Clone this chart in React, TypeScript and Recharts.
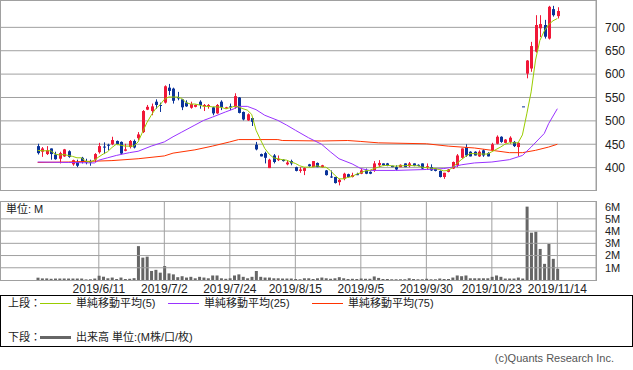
import { ComposedChart, Bar, Line, XAxis, YAxis, CartesianGrid, ReferenceLine } from "recharts";

// daily OHLC, 2019/5/22 - 2019/11/14 (index 0..119)
const opens = [
  446, 434, 429, 441, 428, 419, 424, 435, 407, 412, 421, 414, 413, 417, 433, 445, 449, 450, 457, 455,
  436, 444, 457, 463, 476, 524, 521, 541, 534, 539, 571, 569, 551, 546, 539, 528, 530, 541, 531, 531,
  529, 516, 541, 526, 531, 529, 550, 519, 501, 506, 449, 429, 431, 399, 426, 416, 417, 407, 414, 401,
  393, 393, 407, 401, 410, 401, 394, 381, 380, 369, 376, 386, 380, 386, 387, 394, 391, 393, 405, 409,
  409, 404, 401, 401, 409, 403, 409, 406, 409, 400, 401, 398, 393, 380, 391, 398, 405, 421, 444, 434,
  434, 424, 437, 431, 437, 451, 466, 453, 455, 455, 444, 531, 601, 612, 648, 698, 705, 676, 739, 724,
];
const highs = [
  451, 444, 446, 441, 434, 434, 440, 437, 417, 417, 423, 419, 417, 431, 453, 454, 451, 466, 458, 456,
  451, 459, 460, 476, 523, 534, 537, 546, 539, 576, 579, 571, 562, 546, 544, 541, 535, 544, 536, 536,
  530, 536, 544, 530, 537, 559, 551, 520, 516, 507, 455, 430, 434, 419, 429, 426, 418, 416, 417, 402,
  401, 401, 408, 414, 411, 406, 395, 394, 380, 376, 389, 387, 389, 389, 398, 398, 392, 414, 416, 409,
  410, 404, 405, 407, 409, 412, 409, 407, 409, 409, 407, 399, 394, 389, 397, 413, 429, 441, 450, 435,
  435, 437, 439, 433, 453, 469, 467, 461, 467, 457, 454, 531, 630, 669, 726, 726, 716, 746, 746, 743,
];
const lows = [
  428, 423, 427, 417, 417, 409, 423, 421, 404, 401, 409, 407, 404, 412, 430, 429, 437, 448, 448, 428,
  435, 441, 441, 459, 474, 523, 512, 526, 519, 537, 555, 537, 544, 523, 530, 526, 529, 526, 521, 526,
  512, 515, 523, 525, 523, 526, 516, 501, 500, 489, 437, 424, 409, 399, 409, 414, 413, 405, 405, 392,
  389, 384, 402, 401, 401, 400, 383, 378, 366, 362, 373, 379, 379, 384, 386, 386, 386, 391, 401, 404,
  403, 401, 394, 401, 401, 401, 403, 403, 397, 396, 393, 392, 379, 376, 390, 397, 401, 419, 423, 424,
  426, 423, 423, 424, 436, 450, 453, 452, 451, 444, 425, 531, 591, 605, 646, 679, 676, 674, 723, 719,
];
const closes = [
  431, 441, 437, 429, 418, 431, 439, 423, 416, 404, 412, 411, 412, 429, 446, 443, 447, 459, 450, 430,
  439, 457, 443, 471, 521, 530, 531, 534, 533, 574, 564, 543, 548, 529, 531, 536, 534, 534, 534, 534,
  516, 534, 529, 529, 529, 553, 517, 503, 514, 498, 439, 424, 421, 417, 412, 419, 414, 411, 409, 393,
  396, 399, 403, 414, 401, 405, 384, 379, 367, 374, 387, 380, 384, 385, 394, 387, 387, 409, 410, 405,
  404, 401, 396, 406, 401, 409, 404, 404, 398, 403, 394, 393, 380, 389, 396, 412, 426, 441, 426, 424,
  426, 434, 426, 424, 450, 466, 455, 460, 464, 446, 453, 531, 629, 660, 705, 707, 680, 744, 726, 735,
];
// volume, M shares
const volumes = [
  0.19, 0.13, 0.13, 0.1, 0.12, 0.12, 0.12, 0.12, 0.12, 0.12, 0.12, 0.05, 0.06, 0.12, 0.35, 0.27, 0.14, 0.2, 0.08, 0.2,
  0.08, 0.1, 0.15, 2.77, 1.83, 1.91, 0.74, 0.83, 0.6, 1.14, 0.54, 0.46, 0.23, 0.31, 0.2, 0.26, 0.14, 0.26, 0.2, 0.14,
  0.37, 0.37, 0.14, 0.1, 0.14, 0.37, 0.46, 0.26, 0.14, 0.26, 0.74, 0.26, 0.2, 0.2, 0.14, 0.14, 0.12, 0.12, 0.12, 0.08,
  0.06, 0.14, 0.14, 0.08, 0.14, 0.2, 0.14, 0.1, 0.14, 0.23, 0.14, 0.08, 0.1, 0.08, 0.12, 0.1, 0.1, 0.29, 0.17, 0.08,
  0.08, 0.06, 0.06, 0.06, 0.06, 0.14, 0.08, 0.06, 0.06, 0.1, 0.06, 0.06, 0.12, 0.08, 0.08, 0.2, 0.37, 0.31, 0.37, 0.14,
  0.14, 0.14, 0.14, 0.14, 0.26, 0.37, 0.26, 0.12, 0.12, 0.12, 0.2, 0.12, 6.0, 3.87, 3.95, 2.54, 1.32, 2.95, 1.73, 0.92,
];

// moving averages: [day index, value]
const ma5Points: [number, number][] = [
  [0, 437], [1, 436], [2, 436], [3, 436], [4, 429], [5, 427], [6, 428], [7, 426], [8, 424], [9, 421],
  [10, 421], [11, 414], [12, 412], [13, 416], [14, 423], [15, 429], [16, 434], [17, 443], [18, 450], [19, 448],
  [20, 446], [21, 446], [22, 446], [23, 455], [24, 476], [25, 496], [26, 512], [27, 526], [28, 534], [29, 546],
  [30, 551], [31, 551], [32, 551], [33, 548], [34, 539], [35, 536], [36, 536], [37, 534], [38, 531], [39, 531],
  [40, 530], [41, 530], [42, 529], [43, 526], [44, 528], [45, 531], [46, 530], [47, 526], [48, 523], [49, 514],
  [50, 480], [51, 460], [52, 441], [53, 429], [54, 421], [55, 419], [56, 417], [57, 416], [58, 412], [59, 409],
  [60, 404], [61, 401], [62, 401], [63, 401], [64, 404], [65, 401], [66, 401], [67, 394], [68, 384], [69, 376],
  [70, 376], [71, 379], [72, 381], [73, 386], [74, 389], [75, 393], [76, 394], [77, 398], [78, 401], [79, 404],
  [80, 405], [81, 404], [82, 403], [83, 404], [84, 404], [85, 405], [86, 404], [87, 404], [88, 401], [89, 400],
  [90, 399], [91, 398], [92, 396], [93, 393], [94, 394], [95, 400], [96, 409], [97, 417], [98, 424], [99, 430],
  [100, 430], [101, 429], [102, 429], [103, 429], [104, 434], [105, 439], [106, 444], [107, 450], [108, 453], [109, 453],
  [110, 453], [111, 470], [112, 515], [113, 562], [114, 630], [115, 672], [116, 692], [117, 706], [118, 714], [119, 719],
];
const ma25Points: [number, number][] = [
  [0, 412], [7, 411], [13, 410], [14, 416], [16, 421], [18, 426], [21, 432], [23, 435], [26, 446], [29, 455],
  [31, 466], [33, 476], [36, 491], [38, 501], [40, 508], [43, 519], [45, 526], [46, 531], [48, 531], [50, 524],
  [52, 512], [55, 501], [57, 491], [59, 480], [62, 464], [65, 450], [67, 434], [69, 419], [72, 408], [74, 398],
  [76, 394], [82, 394], [89, 396], [93, 398], [95, 401], [97, 406], [100, 410], [104, 412], [108, 417], [111, 426],
  [113, 444], [116, 473], [117, 494], [119, 526],
];
const ma75Points: [number, number][] = [
  [0, 411], [7, 412], [17, 415], [23, 419], [29, 425], [31, 431], [36, 438], [40, 446], [44, 455], [46, 460],
  [55, 460], [56, 458], [65, 457], [71, 458], [74, 456], [78, 453], [89, 451], [94, 446], [100, 442], [104, 437],
  [108, 432], [111, 432], [114, 437], [117, 444], [119, 450],
];

const tickIdx = [14, 29, 44, 59, 74, 89, 104, 119];
const tickLabels = ["2019/6/11", "2019/7/2", "2019/7/24", "2019/8/15", "2019/9/5", "2019/9/30", "2019/10/23", "2019/11/14"];
const priceTicks = [400, 450, 500, 550, 600, 650, 700];
const volumeTicks = [1, 2, 3, 4, 5, 6];
const volumeGrid = [1, 2, 3, 4, 5];

const RED = "#f01838";
const BLUE = "#0a3399";
const GRID = "#a0a0a0";
const FONT = "'Liberation Sans', 'Noto Sans CJK JP', sans-serif";
const X_DOMAIN = [-8.63, 127.85];

const pick = (pts: [number, number][], i: number) => {
  const p = pts.find((q) => q[0] === i);
  return p ? p[1] : null;
};

const data = closes.map((c, i) => ({
  i,
  open: opens[i],
  high: highs[i],
  low: lows[i],
  close: c,
  range: [lows[i], highs[i]],
  vol: volumes[i],
  ma5: pick(ma5Points, i),
  ma25: pick(ma25Points, i),
  ma75: pick(ma75Points, i),
}));

const Candle = (props: any) => {
  const { x, y, width, height, payload } = props;
  if (!payload) return null;
  const { open, close, high, low } = payload;
  const top = Math.min(y, y + height);
  const h = Math.abs(height);
  const py = (v: number) => (high === low ? top : top + ((high - v) / (high - low)) * h);
  const color = close > open ? RED : BLUE;
  const cx = Math.round(x + width / 2);
  const bTop = py(Math.max(open, close));
  const bBot = py(Math.min(open, close));
  return (
    <g>
      <line x1={cx + 0.5} x2={cx + 0.5} y1={top} y2={top + h} stroke={color} strokeWidth={1} />
      <rect x={cx - 1} y={bTop} width={3} height={Math.max(1, bBot - bTop)} fill={color} />
    </g>
  );
};

const tickStyle = { fontSize: 12, fill: "#222", fontFamily: FONT };
const volTickStyle = { fontSize: 11, fill: "#222", fontFamily: FONT };

const legendText = (left: number, top: number, text: string) => (
  <span style={{ position: "absolute", left, top, fontSize: 11, lineHeight: "14px", color: "#222", whiteSpace: "nowrap" }}>
    {text}
  </span>
);

export default function App() {
  return (
    <div style={{ position: "absolute", left: 0, top: 0, width: 633, height: 370, background: "#fff", fontFamily: FONT }}>
      {/* upper: candles + moving averages */}
      <div style={{ position: "absolute", left: 0, top: 0 }}>
        <ComposedChart width={633} height={191} data={data} margin={{ top: 0, right: 0, bottom: 0, left: 0 }}>
          <CartesianGrid stroke={GRID} />
          <XAxis
            type="number"
            dataKey="i"
            domain={X_DOMAIN}
            allowDataOverflow
            ticks={tickIdx}
            interval={0}
            height={0}
            tick={false}
            axisLine={false}
            tickLine={false}
          />
          <YAxis
            orientation="right"
            width={37}
            domain={[350, 758.5]}
            allowDataOverflow
            ticks={priceTicks}
            interval={0}
            axisLine={false}
            tickLine={false}
            tickSize={0}
            tickMargin={9}
            tick={tickStyle}
          />
          <Line dataKey="ma75" stroke="#ff3300" strokeWidth={1} dot={false} activeDot={false} connectNulls isAnimationActive={false} />
          <Line dataKey="ma25" stroke="#9933ff" strokeWidth={1} dot={false} activeDot={false} connectNulls isAnimationActive={false} />
          <Bar dataKey="range" barSize={3} shape={<Candle />} isAnimationActive={false} />
          <Line dataKey="ma5" stroke="#99cc00" strokeWidth={1} dot={false} activeDot={false} connectNulls isAnimationActive={false} />
        </ComposedChart>
      </div>
      <div style={{ position: "absolute", left: 0, top: 0, width: 597, height: 191, border: `1px solid ${GRID}`, boxSizing: "border-box", pointerEvents: "none" }} />

      {/* lower: volume */}
      <div style={{ position: "absolute", left: 0, top: 201 }}>
        <ComposedChart width={633} height={99} data={data} margin={{ top: 0, right: 0, bottom: 0, left: 0 }}>
          <CartesianGrid stroke={GRID} horizontal={false} />
          <XAxis
            type="number"
            dataKey="i"
            domain={X_DOMAIN}
            allowDataOverflow
            ticks={tickIdx}
            interval={0}
            height={20}
            axisLine={false}
            tickLine={false}
            tickSize={0}
            tickMargin={4}
            tick={tickStyle}
            tickFormatter={(v: number) => tickLabels[tickIdx.indexOf(v)] ?? ""}
          />
          <YAxis
            orientation="right"
            width={37}
            domain={[0, 6.46]}
            allowDataOverflow
            ticks={volumeTicks}
            interval={0}
            axisLine={false}
            tickLine={false}
            tickSize={0}
            tickMargin={9}
            tick={volTickStyle}
            tickFormatter={(v: number) => `${v}M`}
          />
          {volumeGrid.map((v) => (
            <ReferenceLine key={v} y={v} stroke={GRID} />
          ))}
          <Bar dataKey="vol" barSize={3} fill="#666666" isAnimationActive={false} />
        </ComposedChart>
      </div>
      <div style={{ position: "absolute", left: 0, top: 201, width: 597, height: 80, border: `1px solid ${GRID}`, boxSizing: "border-box", pointerEvents: "none" }} />
      {legendText(6, 202, "単位: M")}

      {/* legend */}
      <div style={{ position: "absolute", left: 0, top: 295, width: 633, height: 52, border: "1px solid #000", boxSizing: "border-box" }} />
      {legendText(8, 296, "上段：")}
      <div style={{ position: "absolute", left: 40, top: 303, width: 31, height: 1, background: "#99cc00" }} />
      {legendText(76, 296, "単純移動平均(5)")}
      <div style={{ position: "absolute", left: 168, top: 303, width: 31, height: 1, background: "#9933ff" }} />
      {legendText(204, 296, "単純移動平均(25)")}
      <div style={{ position: "absolute", left: 312, top: 303, width: 31, height: 1, background: "#ff3300" }} />
      {legendText(348, 296, "単純移動平均(75)")}
      {legendText(8, 330, "下段：")}
      <div style={{ position: "absolute", left: 40, top: 336, width: 31, height: 3, background: "#666666" }} />
      {legendText(76, 330, "出来高 単位:(M株/口/枚)")}

      <span style={{ position: "absolute", right: 19, top: 351, fontSize: 11, lineHeight: "14px", color: "#555", whiteSpace: "nowrap" }}>
        (c)Quants Research Inc.
      </span>
    </div>
  );
}
